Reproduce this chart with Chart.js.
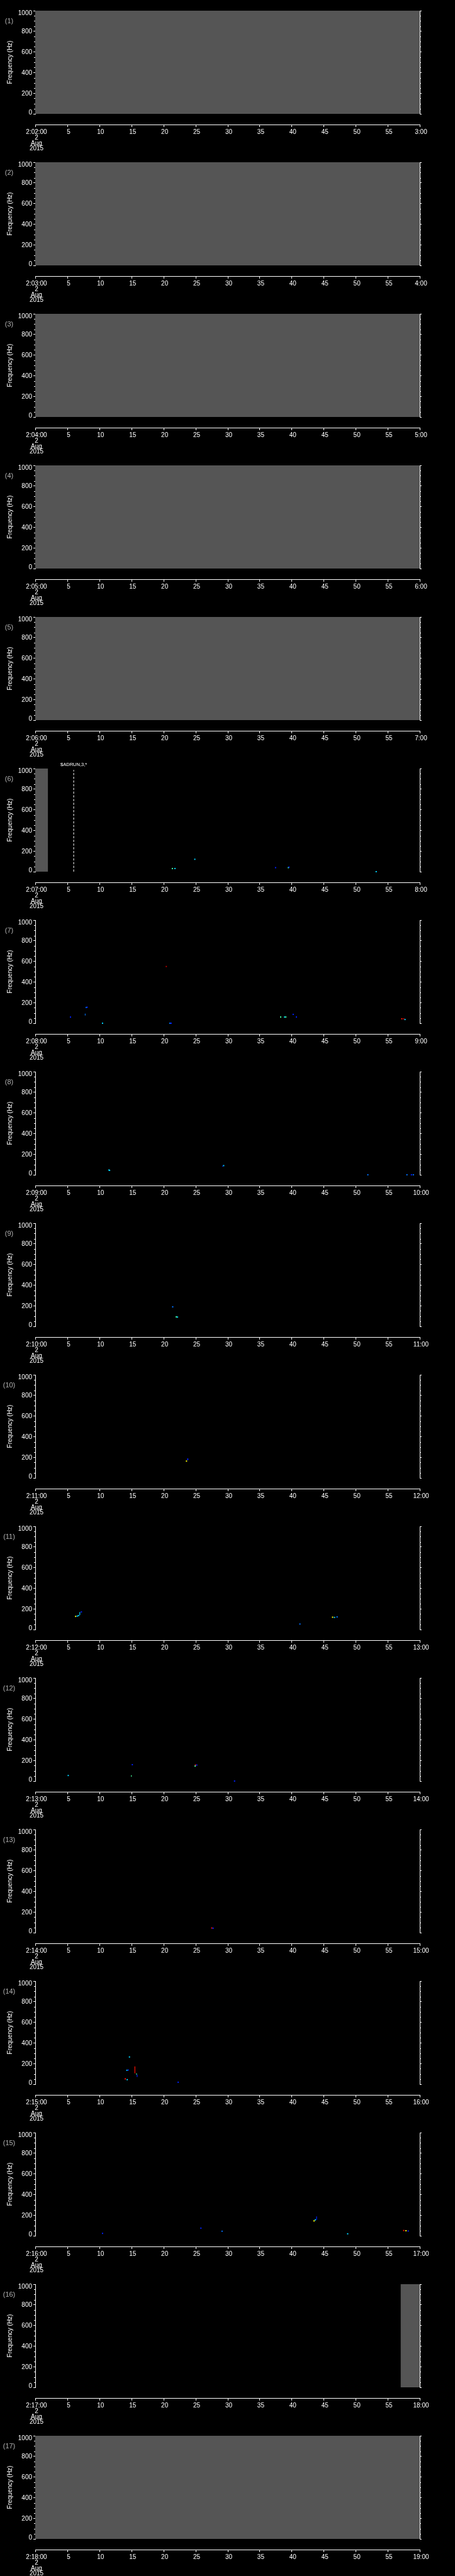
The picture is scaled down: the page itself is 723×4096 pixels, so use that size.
<!DOCTYPE html>
<html>
<head>
<meta charset="utf-8">
<script src="https://cdn.jsdelivr.net/npm/chart.js"></script>
<style>
body{margin:0;background:#000;}
canvas{display:block;}
</style>
</head>
<body>
<div id="panels"></div>
<script>
//time labels of each one-minute panel
const startLabels = ["2:02:00","2:03:00","2:04:00","2:05:00","2:06:00","2:07:00","2:08:00","2:09:00","2:10:00","2:11:00","2:12:00","2:13:00","2:14:00","2:15:00","2:16:00","2:17:00","2:18:00"];
const endLabels = ["3:00","4:00","5:00","6:00","7:00","8:00","9:00","10:00","11:00","12:00","13:00","14:00","15:00","16:00","17:00","18:00","19:00"];
const dateLines = ["2","Aug","2015"];
const freqMax = 1000, freqMajor = 200, freqMinor = 50;
const secMax = 60, secStep = 5;

//no-data (gray) spans in seconds, per panel
const noData = [[[0,60]],[[0,60]],[[0,60]],[[0,60]],[[0,60]],[[0,2]],[],[],[],[],[],[],[],[],[],[[57,60]],[[0,60]]];

//event marker in panel 6
const markerPanel = 6, markerSec = 6, markerTop = 986, markerText = "$ADRUN,3,*";

const palette = {B:"#0020ff",L:"#0070ff",C:"#00d4ff",G:"#48ffa0",Y:"#ffff00",R:"#ff1000",D:"#b00000"};

//spots [seconds, Hz, colour]
const spots6 = [[21.4,30,"G"],[21.8,30,"C"],[24.9,120,"C"],[37.5,39,"B"],[39.5,39,"G"],[39.6,44,"B"],[53.2,0,"C"]];
const spots7 = [[5.5,60,"B"],[7.95,153,"L"],[8.1,155,"B"],[10.5,0,"C"],[20.45,550,"D"],[21.0,0,"L"],[21.2,0,"B"],[38.3,60,"G"],[38.9,60,"C"],[39.1,60,"G"],[40.25,86,"B"],[40.75,60,"B"],[57.2,43,"R"],[57.5,43,"D"],[57.7,36,"C"]];
const spots8 = [[11.5,46,"C"],[11.6,43,"C"],[29.4,89,"C"],[51.9,0,"L"],[58.0,0,"L"],[58.7,0,"B"],[59.0,0,"L"]];
const spots9 = [[21.45,189,"L"],[22.0,92,"G"],[22.2,90,"C"]];
const spots10 = [[23.6,163,"Y"],[23.8,180,"B"]];
const spots11 = [[6.3,127,"Y"],[6.55,130,"C"],[6.75,135,"C"],[7.2,170,"B"],[41.3,53,"L"],[46.4,119,"Y"],[46.7,117,"C"],[47.1,122,"L"]];
const spots12 = [[5.15,54,"C"],[15.15,159,"B"],[25.0,155,"R"],[25.2,155,"B"],[24.95,145,"G"],[31.1,0,"B"]];
const spots13 = [[27.55,45,"R"],[27.75,43,"B"]];
const spots14 = [[14.7,264,"C"],[14.3,135,"C"],[14.5,137,"B"],[14.05,52,"R"],[14.35,44,"C"],[22.3,19,"B"]];
const spots15 = [[10.5,23,"B"],[25.85,74,"B"],[29.15,44,"L"],[43.5,144,"Y"],[43.7,154,"C"],[48.75,19,"C"],[57.5,51,"R"],[57.85,49,"Y"],[58.2,46,"B"]];
const spots17 = [[4.96,17,"L"],[41.0,47,"Y"],[41.3,47,"C"],[48.7,56,"R"],[48.9,50,"D"],[48.95,43,"Y"]];
const spots = [[],[],[],[],[],spots6,spots7,spots8,spots9,spots10,spots11,spots12,spots13,spots14,spots15,[],spots17];

//vertical streaks [seconds, Hz from, Hz to, colour]
const streaks = {
    7:[[7.8,75,93,"L"]],
    8:[[29.25,78,88,"B"]],
    10:[[23.8,170,190,"B"]],
    11:[[6.95,138,169,"C"]],
    12:[[15.0,42,56,"G"]],
    14:[[15.55,105,173,"R"],[15.8,93,105,"G"],[15.9,70,93,"B"]],
    15:[[43.9,154,187,"B"]]
};

const W = 723, H = 241;
const area = {left:56, right:667, top:17, bottom:181};
const axisY = 198;
const FONT = "'Liberation Sans', Arial, sans-serif";

//axis line under the plot, minor ticks, freq labels, panel number and y title
const panelDecor = {
    id:"panelDecor",
    afterDraw(chart){
        const ctx = chart.ctx, a = chart.chartArea;
        const xs = chart.scales.x, ys = chart.scales.y;
        const n = chart.options.plugins.panelDecor.panel;
        ctx.save();
        ctx.strokeStyle = "#fff";
        ctx.lineWidth = 1;
        ctx.beginPath();
        ctx.moveTo(a.left, axisY + 0.5);
        ctx.lineTo(a.right + 1, axisY + 0.5);
        xs.ticks.forEach(t => {
            const px = Math.round(xs.getPixelForValue(t.value)) + 0.5;
            ctx.moveTo(px, axisY);
            ctx.lineTo(px, axisY + 4);
        });
        for(let f = 0; f <= freqMax; f += freqMinor){
            if(f % freqMajor === 0) continue;
            const py = Math.round(ys.getPixelForValue(f)) + 0.5;
            ctx.moveTo(a.left - 2, py); ctx.lineTo(a.left, py);
            ctx.moveTo(a.right, py); ctx.lineTo(a.right + 2, py);
        }
        ctx.stroke();

        //frequency labels: end labels kept inside the axis
        ctx.fillStyle = "#fff";
        ctx.font = "10px " + FONT;
        ctx.textAlign = "right";
        ctx.textBaseline = "alphabetic";
        ys.ticks.forEach(t => {
            const py = ys.getPixelForValue(t.value);
            let base = py + 3.6;
            if(t.value === 0) base = py + 0.5;
            if(t.value === freqMax) base = py + 7.2;
            ctx.fillText(String(t.value), a.left - 5, base);
        });

        ctx.fillStyle = "#b0b0b0";
        ctx.font = "11px " + FONT;
        ctx.textAlign = "center";
        ctx.textBaseline = "middle";
        ctx.fillText("(" + n + ")", 14.5, 34);

        ctx.fillStyle = "#fff";
        ctx.font = "10px " + FONT;
        ctx.translate(18.5, (a.top + a.bottom) / 2);
        ctx.rotate(-Math.PI / 2);
        ctx.textBaseline = "alphabetic";
        ctx.fillText("Frequency (Hz)", 0, 0);
        ctx.restore();

        if(n === markerPanel){
            ctx.save();
            ctx.fillStyle = "#fff";
            ctx.font = "7.5px " + FONT;
            ctx.textAlign = "center";
            ctx.textBaseline = "middle";
            ctx.fillText(markerText, xs.getPixelForValue(markerSec), 11);
            ctx.restore();
        }
    }
};

function buildDatasets(n){
    const sets = [];
    noData[n-1].forEach(span => {
        sets.push({
            data:[{x:span[0],y:freqMax},{x:span[1],y:freqMax}],
            fill:"origin", backgroundColor:"#555555",
            borderColor:"rgba(0,0,0,0)", borderWidth:0, pointRadius:0
        });
    });
    if(n === markerPanel){
        sets.push({
            data:[{x:markerSec,y:0},{x:markerSec,y:markerTop}],
            borderColor:"#fff", borderWidth:1, borderDash:[3.5,2.4], pointRadius:0, fill:false
        });
    }
    (streaks[n] || []).forEach(s => {
        sets.push({
            data:[{x:s[0],y:s[1]},{x:s[0],y:s[2]}],
            borderColor:palette[s[3]], borderWidth:1.2, pointRadius:0, fill:false, clip:false
        });
    });
    const sp = spots[n-1];
    if(sp.length){
        sets.push({
            data:sp.map(p => ({x:p[0], y:p[1]})),
            showLine:false, pointStyle:"rect", pointRadius:1.4, pointBorderWidth:0,
            pointBackgroundColor:sp.map(p => palette[p[2]]), clip:false
        });
    }
    return sets;
}

function makePanel(n){
    const canvas = document.createElement("canvas");
    canvas.width = W; canvas.height = H;
    document.getElementById("panels").appendChild(canvas);
    new Chart(canvas.getContext("2d"), {
        type:"line",
        data:{datasets:buildDatasets(n)},
        options:{
            responsive:false, animation:false, devicePixelRatio:1,
            layout:{padding:{top:area.top, left:0, right:0, bottom:0}},
            plugins:{legend:{display:false}, tooltip:{enabled:false}, panelDecor:{panel:n}},
            scales:{
                x:{
                    type:"linear", min:0, max:secMax,
                    afterFit:s => { s.height = H - area.bottom; },
                    grid:{display:false, drawTicks:false}, border:{display:false},
                    ticks:{
                        stepSize:secStep, autoSkip:false, maxRotation:0, color:"#fff",
                        padding:25, labelOffset:2,
                        font:{family:FONT, size:10, lineHeight:0.87},
                        callback:v => v === 0 ? [startLabels[n-1]].concat(dateLines) : (v === secMax ? endLabels[n-1] : String(v))
                    }
                },
                y:{
                    position:"left", min:0, max:freqMax, z:1,
                    afterFit:s => { s.width = area.left; },
                    grid:{drawOnChartArea:false, tickLength:3, color:"#fff"},
                    border:{color:"#fff"},
                    ticks:{stepSize:freqMajor, display:false}
                },
                y2:{
                    position:"right", min:0, max:freqMax, z:1,
                    afterFit:s => { s.width = W - area.right; },
                    grid:{drawOnChartArea:false, tickLength:3, color:"#fff"},
                    border:{color:"#fff"},
                    ticks:{stepSize:freqMajor, display:false}
                }
            }
        },
        plugins:[panelDecor]
    });
}

for(let i = 1; i <= startLabels.length; i++){
    makePanel(i);
}
</script>
</body>
</html>
